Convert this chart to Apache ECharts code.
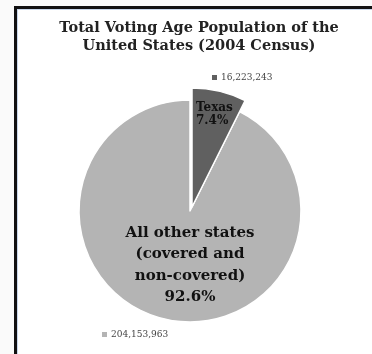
<!DOCTYPE html>
<html><head><meta charset="utf-8">
<script src="https://cdn.jsdelivr.net/npm/echarts@6/dist/echarts.min.js"></script>
<style>html,body{margin:0;padding:0;background:#fafafa}#c{width:372px;height:354px}</style>
</head><body><div id="c"></div>
<script>
const titleLines = ['Total Voting Age Population of the', 'United States (2004 Census)'];
const categories = ['Texas', 'All other states (covered and non-covered)'];
const labelLines = [['Texas'], ['All other states', '(covered and', 'non-covered)']];
const values = [16223243, 204153963];
const colors = ['#606060', '#b4b4b4'];

const total = values.reduce((a, b) => a + b, 0);
const pct = values.map(v => (v / total * 100).toFixed(1) + '%');
const fmt = v => v.toLocaleString('en-US');
const serif = '"DejaVu Serif", "Liberation Serif", serif';

const chart = echarts.init(document.getElementById('c'));
chart.setOption({
  backgroundColor: '#fafafa',
  animation: false,
  graphic: [
    { type: 'rect', shape: { x: 16, y: 8, width: 356, height: 346 }, style: { fill: '#ffffff' }, z: -10 },
    { type: 'rect', shape: { x: 14, y: 6, width: 358, height: 3 }, style: { fill: '#111' } },
    { type: 'rect', shape: { x: 14, y: 6, width: 3, height: 348 }, style: { fill: '#111' } },
    { type: 'rect', shape: { x: 17, y: 9, width: 355, height: 1 }, style: { fill: '#c8d6ea' } },
    { type: 'rect', shape: { x: 17, y: 9, width: 1, height: 345 }, style: { fill: '#c8d6ea' } },
    { type: 'text', x: 199, y: 28, style: { text: titleLines[0], font: 'bold 14.5px ' + serif, fill: '#222', align: 'center', verticalAlign: 'middle' } },
    { type: 'text', x: 199, y: 46, style: { text: titleLines[1], font: 'bold 14.5px ' + serif, fill: '#222', align: 'center', verticalAlign: 'middle' } },
    { type: 'rect', shape: { x: 212, y: 75, width: 5, height: 5 }, style: { fill: colors[0] } },
    { type: 'text', x: 221, y: 78, style: { text: fmt(values[0]), font: '9px ' + serif, fill: '#444', verticalAlign: 'middle' } },
    { type: 'rect', shape: { x: 102, y: 332, width: 5, height: 5 }, style: { fill: colors[1] } },
    { type: 'text', x: 111, y: 335, style: { text: fmt(values[1]), font: '9px ' + serif, fill: '#444', verticalAlign: 'middle' } },
    { type: 'text', x: 196, y: 114, z: 100, style: { text: labelLines[0][0] + '\n' + pct[0], font: 'bold 12px ' + serif, fill: '#111', align: 'left', verticalAlign: 'middle', lineHeight: 13 } },
    { type: 'text', x: 190, y: 265, z: 100, style: { text: labelLines[1].join('\n') + '\n' + pct[1], font: 'bold 15px ' + serif, fill: '#111', align: 'center', verticalAlign: 'middle', lineHeight: 21.5 } }
  ],
  series: [
    {
      type: 'pie', center: [190, 211], radius: 111, startAngle: 90, clockwise: true,
      label: { show: false }, labelLine: { show: false }, silent: true,
      itemStyle: { borderColor: '#fff', borderWidth: 1.5 },
      data: categories.map((c, i) => ({ name: c, value: values[i], itemStyle: { color: i === 0 ? 'rgba(0,0,0,0)' : colors[i], borderColor: i === 0 ? 'rgba(0,0,0,0)' : '#fff' } }))
    },
    {
      type: 'pie', center: [192, 207], radius: 119, startAngle: 90, clockwise: true,
      label: { show: false }, labelLine: { show: false }, silent: true,
      data: categories.map((c, i) => ({ name: c, value: values[i], itemStyle: { color: i === 0 ? colors[0] : 'rgba(0,0,0,0)', borderColor: i === 0 ? '#fff' : 'rgba(0,0,0,0)', borderWidth: 1.5 } }))
    }
  ]
});
</script></body></html>
